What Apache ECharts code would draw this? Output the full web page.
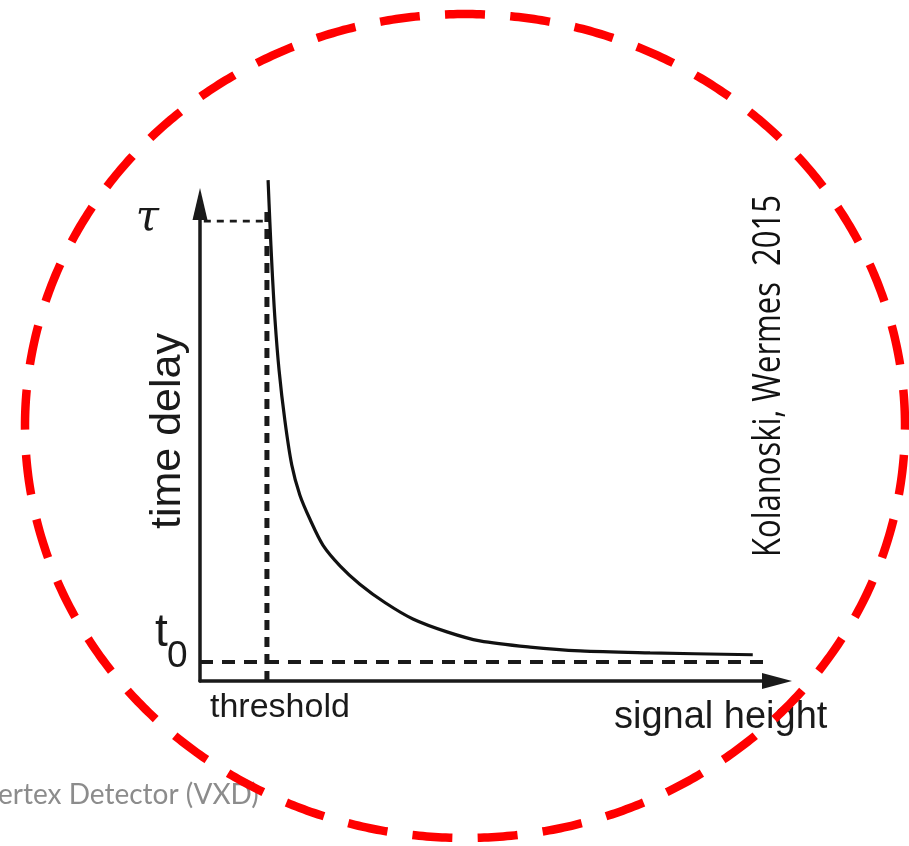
<!DOCTYPE html>
<html><head><meta charset="utf-8">
<script src="https://cdn.jsdelivr.net/npm/echarts@6/dist/echarts.min.js"></script>
<style>html,body{margin:0;padding:0;background:#fff}#c{width:909px;height:846px}</style>
</head><body><div id="c"></div>
<script>
// ---- data (abstract units: x 0..100 signal height, y 0..100 time delay) ----
const curveX = [11.8, 12.1, 12.5, 13.0, 13.7, 14.7, 15.9, 17.3, 19.1, 21.3, 24.3, 27.7, 32.1, 36.9, 42.8, 48.5, 57.2, 65.9, 78.0, 95.8];
const curveY = [105.0, 96.4, 86.2, 75.7, 65.2, 54.7, 45.3, 39.0, 33.8, 28.5, 24.1, 20.3, 16.4, 13.0, 10.3, 8.4, 7.1, 6.3, 5.9, 5.5];
const tauValue = 96.4;
const t0Value = 4.0;
const thresholdValue = 11.6;
const tauLineX = [-6.1, 12.1];
const t0LineX = [0, 99.1];
const thresholdLineY = [0, 99.4];
const xAxisTitle = 'signal height';
const yAxisTitle = 'time delay';
const thresholdLabel = 'threshold';
const tauLabel = 'τ';
const t0Main = 't';
const t0Sub = '0';
const creditText = 'Kolanoski, Wermes  2015';
const footerText = 'ertex Detector (VXD)';

const chart = echarts.init(document.getElementById('c'), null, {renderer: 'canvas'});
const ink = '#1a1a1a';
const sans = '"Liberation Sans", Arial, sans-serif';

// red dashed ellipse overlay
const cx = 465, cy = 426, rx = 440, ry = 412, N = 720;
const ell = [];
for (let i = 0; i < N; i++) {
  const a = -Math.PI / 2 + i * 2 * Math.PI / N;
  ell.push([cx + rx * Math.cos(a), cy + ry * Math.sin(a)]);
}
let per = 0;
for (let i = 0; i < N; i++) {
  const p = ell[i], q = ell[(i + 1) % N];
  per += Math.hypot(q[0] - p[0], q[1] - p[1]);
}
const dashLen = 40;
const gapLen = per / 41 - dashLen;

const option = {
  backgroundColor: '#ffffff',
  animation: false,
  grid: {left: 200, right: 132, top: 204, bottom: 165, containLabel: false},
  xAxis: {
    type: 'value', min: 0, max: 100,
    axisLine: {show: true, onZero: false, symbol: ['none', 'triangle'], symbolSize: [16, 30],
      lineStyle: {color: ink, width: 3.5}},
    axisTick: {show: false}, axisLabel: {show: false}, splitLine: {show: false}
  },
  yAxis: {
    type: 'value', min: 0, max: 100,
    axisLine: {show: true, onZero: false, symbol: ['none', 'triangle'], symbolSize: [15, 32],
      lineStyle: {color: ink, width: 3.5}},
    axisTick: {show: false}, axisLabel: {show: false}, splitLine: {show: false}
  },
  series: [
    {
      type: 'line', name: 'tau', clip: false, showSymbol: false, silent: true,
      data: tauLineX.map(x => [x, tauValue]),
      lineStyle: {color: ink, width: 2.8, type: [7, 6]}
    },
    {
      type: 'line', name: 't0', clip: false, showSymbol: false, silent: true,
      data: t0LineX.map(x => [x, t0Value]),
      lineStyle: {color: ink, width: 4, type: [13, 9]}
    },
    {
      type: 'line', name: 'threshold', clip: false, showSymbol: false, silent: true,
      data: thresholdLineY.map(y => [thresholdValue, y]),
      lineStyle: {color: ink, width: 5, type: [10, 7]}
    },
    {
      type: 'line', name: 'delay', clip: false, showSymbol: false, silent: true, smooth: 0.3,
      data: curveX.map((x, i) => [x, curveY[i]]),
      lineStyle: {color: '#111', width: 3.2}
    }
  ],
  graphic: [
    {type: 'text', x: 159, y: 219, style: {text: tauLabel, fontSize: 42, fontStyle: 'italic',
      fontFamily: '"DejaVu Serif", serif', fill: ink, align: 'right', verticalAlign: 'middle'}},
    {type: 'text', x: 155, y: 633, style: {text: t0Main, fontSize: 46, fontFamily: sans, fill: ink,
      align: 'left', verticalAlign: 'middle'}},
    {type: 'text', x: 167, y: 657, style: {text: t0Sub, fontSize: 37, fontFamily: sans, fill: ink,
      align: 'left', verticalAlign: 'middle'}},
    {type: 'text', x: 210, y: 708, style: {text: thresholdLabel, fontSize: 34, fontFamily: sans, fill: ink,
      align: 'left', verticalAlign: 'middle'}},
    {type: 'text', x: 614, y: 718, style: {text: xAxisTitle, fontSize: 38, fontFamily: sans, fill: ink,
      align: 'left', verticalAlign: 'middle'}},
    {type: 'text', x: 168, y: 431, rotation: Math.PI / 2, style: {text: yAxisTitle, fontSize: 43, fontFamily: sans,
      fill: ink, align: 'center', verticalAlign: 'middle'}},
    {type: 'text', x: 769, y: 376, rotation: Math.PI / 2, scaleY: 1.25, style: {text: creditText, fontSize: 31,
      fontFamily: '"Open Sans", sans-serif', fill: '#111', align: 'center', verticalAlign: 'middle'}},
    {type: 'text', x: -2, y: 795, style: {text: footerText, fontSize: 28, fontFamily: 'Lato, "Open Sans", sans-serif',
      fill: '#8c8c8c', align: 'left', verticalAlign: 'middle'}},
    {type: 'polygon', z: 100, silent: true, shape: {points: ell},
      style: {fill: 'none', stroke: '#ff0000', lineWidth: 8.5, lineDash: [dashLen, gapLen], lineDashOffset: dashLen / 2}}
  ]
};
chart.setOption(option);
</script>
</body></html>
